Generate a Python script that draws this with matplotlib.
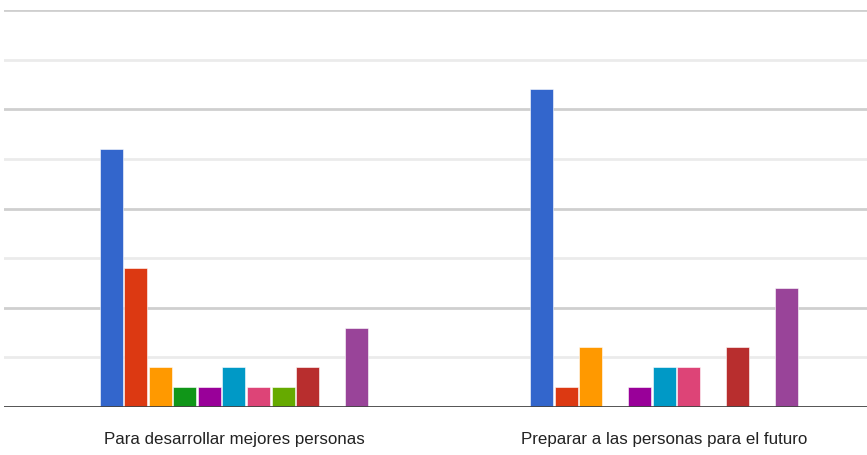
import numpy as np
import matplotlib.pyplot as plt

categories = ['Para desarrollar mejores personas', 'Preparar a las personas para el futuro']
# 11 series, Google Charts default palette
colors = ['#3366cc', '#dc3912', '#ff9900', '#109618', '#990099', '#0099c6',
          '#dd4477', '#66aa00', '#b82e2e', '#316395', '#994499']
group1 = [13, 7, 2, 1, 1, 2, 1, 1, 2, 0, 4]
group2 = [16, 1, 3, 0, 1, 2, 2, 0, 3, 0, 6]

fig = plt.figure(figsize=(8.67, 4.55), dpi=100)
ax = fig.add_axes([4 / 867, 48 / 455, 863 / 867, 397 / 455])

n = len(colors)
pitch = 24.5 / 430
width = 23 / 430
x = np.arange(len(categories))
for i in range(n):
    off = (i - (n - 1) / 2) * pitch
    ax.bar(x + off, [group1[i], group2[i]], width=width, color=colors[i],
           edgecolor='white', linewidth=0.4, zorder=3)

ax.set_xlim((4 - 234) / 430, (867 - 234) / 430)
ax.set_ylim(0, 20)

# alternating gridlines
for k, y in enumerate(np.arange(2.5, 20.01, 2.5)):
    c = '#cfcfcf' if k % 2 == 1 else '#ebebeb'
    ax.axhline(y, color=c, linewidth=2, zorder=1)
ax.axhline(0, color='#444444', linewidth=2, zorder=4)

for s in ax.spines.values():
    s.set_visible(False)
ax.set_yticks([])
ax.set_xticks(x)
ax.set_xticklabels(categories, fontsize=12.2, color='#222222',
                   family='Liberation Sans')
ax.tick_params(axis='x', length=0, pad=18)

fig.savefig('out.png', dpi=100)
